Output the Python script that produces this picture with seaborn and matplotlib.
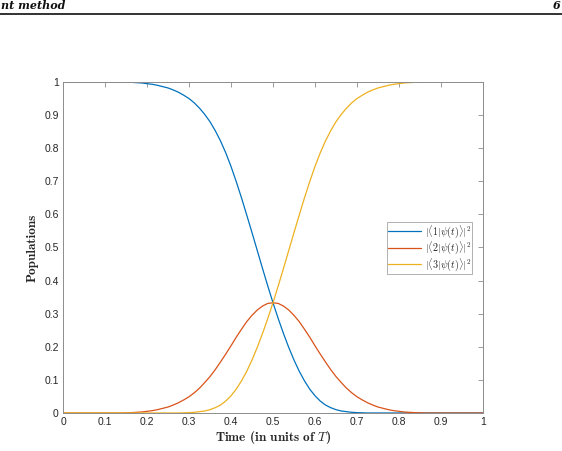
import matplotlib
matplotlib.use("Agg")
import matplotlib.pyplot as plt
import pandas as pd
import seaborn as sns
from matplotlib.lines import Line2D

OUTPUT_PATH = "out.png"

# time axis, in units of T (step 0.0125)
TIME = [i * 0.0125 for i in range(81)]

POP_1 = [
    1.0, 1.0, 1.0, 1.0, 1.0, 1.0, 1.0, 1.0, 1.0, 1.0,
    1.0, 1.0, 0.9995, 0.999, 0.998, 0.997, 0.995, 0.993, 0.990, 0.986,
    0.982, 0.976, 0.969, 0.960, 0.950, 0.937, 0.921, 0.902, 0.880, 0.853,
    0.822, 0.786, 0.745, 0.699, 0.650, 0.598, 0.545, 0.491, 0.437, 0.384,
    0.333, 0.285, 0.240, 0.198, 0.160, 0.126, 0.097, 0.072, 0.052, 0.036,
    0.024, 0.016, 0.010, 0.006, 0.004, 0.002, 0.001, 0.0005, 0.0, 0.0,
    0.0, 0.0, 0.0, 0.0, 0.0, 0.0, 0.0, 0.0, 0.0, 0.0,
    0.0, 0.0, 0.0, 0.0, 0.0, 0.0, 0.0, 0.0, 0.0, 0.0,
    0.0,
]
POP_2 = [
    0.0, 0.0, 0.0, 0.0, 0.0, 0.0, 0.0, 0.0, 0.0, 0.0,
    0.0, 0.0, 0.0005, 0.001, 0.002, 0.003, 0.005, 0.007, 0.010, 0.014,
    0.018, 0.024, 0.031, 0.0395, 0.049, 0.061, 0.075, 0.092, 0.110, 0.131,
    0.154, 0.178, 0.203, 0.229, 0.253, 0.276, 0.295, 0.311, 0.323, 0.331,
    0.333, 0.331, 0.323, 0.311, 0.295, 0.276, 0.253, 0.229, 0.203, 0.178,
    0.154, 0.131, 0.110, 0.092, 0.075, 0.061, 0.049, 0.0395, 0.031, 0.024,
    0.018, 0.014, 0.010, 0.007, 0.005, 0.003, 0.002, 0.001, 0.0005, 0.0,
    0.0, 0.0, 0.0, 0.0, 0.0, 0.0, 0.0, 0.0, 0.0, 0.0,
    0.0,
]
POP_3 = [
    0.0, 0.0, 0.0, 0.0, 0.0, 0.0, 0.0, 0.0, 0.0, 0.0,
    0.0, 0.0, 0.0, 0.0, 0.0, 0.0, 0.0, 0.0, 0.0, 0.0,
    0.0, 0.0, 0.0, 0.0005, 0.001, 0.002, 0.004, 0.006, 0.010, 0.016,
    0.024, 0.036, 0.052, 0.072, 0.097, 0.126, 0.160, 0.198, 0.240, 0.285,
    0.333, 0.384, 0.437, 0.491, 0.545, 0.598, 0.650, 0.699, 0.745, 0.786,
    0.822, 0.853, 0.880, 0.902, 0.921, 0.937, 0.950, 0.960, 0.969, 0.976,
    0.982, 0.986, 0.990, 0.993, 0.995, 0.997, 0.998, 0.999, 0.9995, 1.0,
    1.0, 1.0, 1.0, 1.0, 1.0, 1.0, 1.0, 1.0, 1.0, 1.0,
    1.0,
]

LABELS = [
    r"$|\langle 1|\psi(t)\rangle|^2$",
    r"$|\langle 2|\psi(t)\rangle|^2$",
    r"$|\langle 3|\psi(t)\rangle|^2$",
]
COLORS = ["#0072BD", "#D95319", "#EDB120"]
TICKS = [i / 10 for i in range(11)]
TICK_LABELS = ["0", "0.1", "0.2", "0.3", "0.4", "0.5", "0.6", "0.7", "0.8", "0.9", "1"]

AXIS_GREY = "#8c8c8c"
TEXT_GREY = "#262626"


def build_frame():
    frames = []
    for label, values in zip(LABELS, [POP_1, POP_2, POP_3]):
        frames.append(pd.DataFrame({"time": TIME, "pop": values, "state": label}))
    return pd.concat(frames, ignore_index=True)


def main():
    sns.set_theme(style="white")
    plt.rcParams["font.family"] = ["Liberation Sans", "DejaVu Sans"]
    plt.rcParams["mathtext.fontset"] = "cm"

    data = build_frame()

    fig = plt.figure(figsize=(5.62, 4.51), dpi=100)
    ax = fig.add_axes([0.1121, 0.0843, 0.7473, 0.7339])

    sns.lineplot(
        data=data,
        x="time",
        y="pop",
        hue="state",
        palette=dict(zip(LABELS, COLORS)),
        linewidth=0.9,
        ax=ax,
    )

    ax.set_xlim(0, 1)
    ax.set_ylim(0, 1)
    ax.set_xticks(TICKS)
    ax.set_xticklabels(TICK_LABELS)
    ax.set_yticks(TICKS)
    ax.set_yticklabels(TICK_LABELS)
    ax.tick_params(
        axis="both", direction="in", length=3.5, width=0.6,
        color=AXIS_GREY, labelsize=7.5, labelcolor=TEXT_GREY,
        top=True, right=True, pad=3,
    )
    for spine in ax.spines.values():
        spine.set_visible(True)
        spine.set_color(AXIS_GREY)
        spine.set_linewidth(0.7)

    ax.set_xlabel(r"Time (in units of $T$)", family="cmb10", fontsize=9.5,
                  color=TEXT_GREY, labelpad=1)
    ax.set_ylabel("Populations", family="cmb10", fontsize=9.5,
                  color=TEXT_GREY, labelpad=4)

    legend = ax.legend(
        title=None,
        loc="center right",
        bbox_to_anchor=(0.974, 0.4985),
        frameon=True,
        fancybox=False,
        fontsize=7.2,
        handlelength=3.3,
        handletextpad=0.4,
        borderpad=0.1,
        borderaxespad=0.0,
        labelspacing=0.0,
    )
    legend.get_frame().set_edgecolor(AXIS_GREY)
    legend.get_frame().set_linewidth(0.6)
    for text in legend.get_texts():
        text.set_color(TEXT_GREY)

    # page header left over from the source document
    fig.text(0.002, 0.981, "nt method", family="DejaVu Serif", fontstyle="italic",
             fontweight="bold", fontsize=8, ha="left", va="baseline", color="#111111")
    fig.text(0.984, 0.981, "6", family="DejaVu Serif", fontstyle="italic",
             fontweight="bold", fontsize=8, ha="left", va="baseline", color="#111111")
    fig.add_artist(Line2D([0, 1], [0.969, 0.969], transform=fig.transFigure,
                          color="#222222", linewidth=1.3))

    fig.savefig(OUTPUT_PATH, dpi=100, facecolor="white")
    plt.close(fig)


if __name__ == "__main__":
    main()
